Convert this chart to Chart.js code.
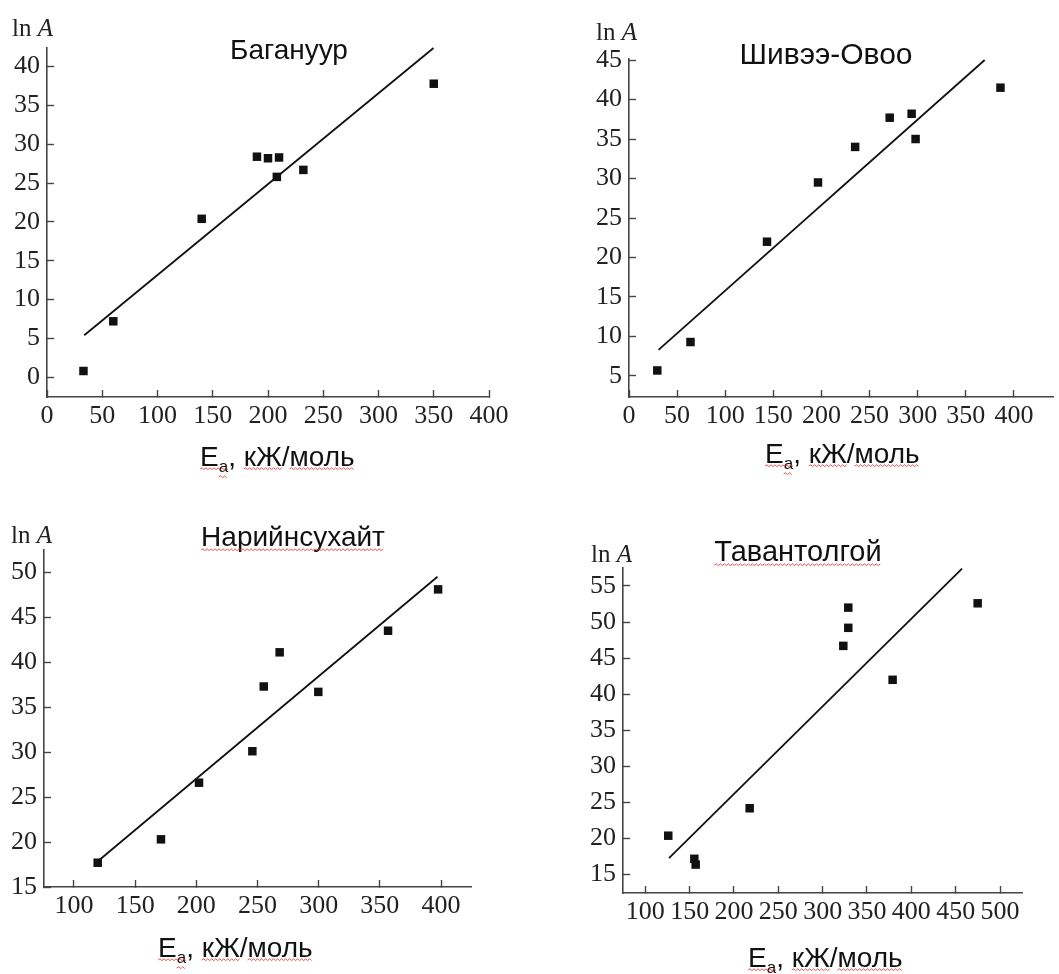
<!DOCTYPE html>
<html>
<head>
<meta charset="utf-8">
<script src="https://cdn.jsdelivr.net/npm/chart.js@4.4.1/dist/chart.umd.min.js"></script>
<style>
  html, body { margin: 0; padding: 0; background: #fff; }
  #wrap { position: relative; width: 1059px; height: 974px; overflow: hidden; background: #fff; }
  .panel { position: absolute; }
</style>
</head>
<body>
<div id="wrap">
  <div class="panel" style="left:0;top:0;width:530px;height:487px"><canvas id="c1"></canvas></div>
  <div class="panel" style="left:530px;top:0;width:529px;height:487px"><canvas id="c2"></canvas></div>
  <div class="panel" style="left:0;top:487px;width:530px;height:487px"><canvas id="c3"></canvas></div>
  <div class="panel" style="left:530px;top:487px;width:529px;height:487px"><canvas id="c4"></canvas></div>
</div>
<script>
// Activation energy (kJ/mol) vs ln A for four coal deposits
const bagaX = [33, 60, 140, 190, 200, 210, 208, 232, 350];
const bagaY = [0.8, 7.2, 20.4, 28.4, 28.2, 28.3, 25.8, 26.7, 37.8];
const bagaFitX = [33.7, 349.8];
const bagaFitY = [5.4, 42.4];

const shivX = [29.4, 63.9, 143.4, 196.4, 235, 270.9, 293.7, 297.8, 386];
const shivY = [5.7, 9.3, 22.0, 29.5, 34.0, 37.7, 38.2, 35.0, 41.5];
const shivFitX = [30.7, 369.6];
const shivFitY = [8.3, 45.0];

const nariX = [119.4, 171.1, 202.2, 245.8, 255.1, 268.1, 299.7, 356.7, 397.6];
const nariY = [17.7, 20.3, 26.6, 30.1, 37.3, 41.1, 36.7, 43.5, 48.1];
const nariFitX = [120.7, 397.1];
const nariFitY = [18.0, 49.5];

const tavX = [125.9, 155.3, 156.8, 217.7, 323.3, 328.9, 328.9, 378.9, 474.8];
const tavY = [20.4, 17.2, 16.4, 24.2, 46.7, 49.2, 52.0, 42.0, 52.6];
const tavFitX = [126.7, 457.2];
const tavFitY = [17.3, 57.4];

// Tick values for each axis
const bagaXTicks = [0, 50, 100, 150, 200, 250, 300, 350, 400];
const bagaYTicks = [0, 5, 10, 15, 20, 25, 30, 35, 40];
const shivXTicks = [0, 50, 100, 150, 200, 250, 300, 350, 400];
const shivYTicks = [5, 10, 15, 20, 25, 30, 35, 40, 45];
const nariXTicks = [100, 150, 200, 250, 300, 350, 400];
const nariYTicks = [15, 20, 25, 30, 35, 40, 45, 50];
const tavXTicks = [100, 150, 200, 250, 300, 350, 400, 450, 500];
const tavYTicks = [15, 20, 25, 30, 35, 40, 45, 50, 55];

const titles = ['Багануур', 'Шивээ-Овоо', 'Нарийнсухайт', 'Тавантолгой'];

const INK = '#111';
const AXIS = '#454545';
const SERIF = '"Liberation Serif", "Times New Roman", serif';
const SANS = '"Liberation Sans", Arial, sans-serif';

function zip(xs, ys) { return xs.map((x, i) => ({ x: x, y: ys[i] })); }

function wavy(ctx, x0, x1, y) {
  ctx.save();
  ctx.strokeStyle = 'rgba(226,52,52,0.85)';
  ctx.lineWidth = 1;
  ctx.beginPath();
  let up = true;
  ctx.moveTo(x0, y);
  for (let x = x0 + 2; x <= x1; x += 2) {
    ctx.lineTo(x, up ? y - 1.2 : y + 0.6);
    up = !up;
  }
  ctx.stroke();
  ctx.restore();
}

// Titles, "ln A" and "Ea, кЖ/моль" captions drawn on each panel
const panelText = {
  id: 'panelText',
  afterDraw(chart, args, o) {
    const ctx = chart.ctx;
    const ox = o.origin[0], oy = o.origin[1];
    ctx.save();
    ctx.fillStyle = INK;
    ctx.textBaseline = 'alphabetic';

    // title
    ctx.font = o.titleSize + 'px ' + SANS;
    ctx.textAlign = 'center';
    const tx = o.title[0] - ox, ty = o.title[1] - oy;
    ctx.fillText(o.text, tx, ty);
    if (o.titleWavy) {
      const tw = ctx.measureText(o.text).width;
      wavy(ctx, tx - tw / 2, tx + tw / 2, ty + 4);
    }

    // y caption
    ctx.textAlign = 'left';
    const lx = o.lnA[0] - ox, ly = o.lnA[1] - oy;
    ctx.font = '25px ' + SERIF;
    ctx.fillStyle = '#222';
    ctx.fillText('ln ', lx, ly);
    const wl = ctx.measureText('ln ').width;
    ctx.font = 'italic 25px ' + SERIF;
    ctx.fillText('A', lx + wl, ly);

    // x caption with subscript
    ctx.fillStyle = INK;
    const ex = o.xlab[0] - ox, ey = o.xlab[1] - oy;
    ctx.font = '28px ' + SANS;
    ctx.fillText('E', ex, ey);
    const wE = ctx.measureText('E').width;
    ctx.font = '17px ' + SANS;
    ctx.fillText('a', ex + wE, ey + 6);
    const wa = ctx.measureText('a').width;
    ctx.font = '28px ' + SANS;
    const rest = ', кЖ/моль';
    ctx.fillText(rest, ex + wE + wa, ey);
    const wComma = ctx.measureText(', ').width;
    const wKZ = ctx.measureText('кЖ').width;
    const wSl = ctx.measureText('/').width;
    const wMol = ctx.measureText('моль').width;
    const base = ex + wE + wa;
    wavy(ctx, ex, base, ey + 3);
    wavy(ctx, ex + wE, base, ey + 11);
    wavy(ctx, base + wComma, base + wComma + wKZ, ey + 3);
    wavy(ctx, base + wComma + wKZ + wSl, base + wComma + wKZ + wSl + wMol, ey + 3);
    ctx.restore();
  }
};

function makePanel(id, cfg) {
  const [ox, oy, cw, ch] = cfg.box;
  const [L, T, R, B] = cfg.plot;
  const yW = L - ox;
  const xH = oy + ch - B;
  const tickFont = { family: SERIF, size: 26 };
  const setTicks = (list) => (s) => { s.ticks = list.map(v => ({ value: v })); };
  return new Chart(document.getElementById(id), {
    type: 'scatter',
    data: {
      datasets: [
        {
          type: 'line',
          data: zip(cfg.fitX, cfg.fitY),
          borderColor: INK,
          borderWidth: 1.8,
          pointRadius: 0,
          fill: false,
          clip: false
        },
        {
          data: zip(cfg.xs, cfg.ys),
          pointStyle: 'rect',
          pointRadius: 6,
          pointBackgroundColor: INK,
          pointBorderWidth: 0,
          clip: false
        }
      ]
    },
    options: {
      responsive: true,
      maintainAspectRatio: false,
      animation: false,
      devicePixelRatio: 1,
      layout: { padding: { left: 0, top: T - oy, right: ox + cw - R, bottom: 0 } },
      plugins: {
        legend: { display: false },
        tooltip: { enabled: false },
        panelText: {
          origin: [ox, oy],
          text: cfg.title,
          titleSize: cfg.titleSize,
          title: cfg.titlePos,
          titleWavy: cfg.titleWavy,
          lnA: cfg.lnA,
          xlab: cfg.xlab
        }
      },
      scales: {
        x: {
          type: 'linear',
          position: 'bottom',
          min: cfg.xr[0],
          max: cfg.xr[1],
          afterBuildTicks: setTicks(cfg.xTicks),
          ticks: {
            autoSkip: false,
            maxRotation: 0,
            color: '#222',
            font: tickFont,
            padding: 11
          },
          grid: {
            drawOnChartArea: false,
            drawTicks: true,
            tickLength: -7,
            tickColor: AXIS,
            tickWidth: 1.4
          },
          border: { display: true, color: AXIS, width: 1.6 },
          afterFit(s) { s.height = xH; s.paddingLeft = 0; s.paddingRight = 0; }
        },
        y: {
          type: 'linear',
          position: 'left',
          min: cfg.yr[0],
          max: cfg.yr[1],
          afterBuildTicks: setTicks(cfg.yTicks),
          ticks: {
            autoSkip: false,
            color: '#222',
            font: tickFont,
            padding: 14
          },
          grid: {
            drawOnChartArea: false,
            drawTicks: true,
            tickLength: -7,
            tickColor: AXIS,
            tickWidth: 1.4
          },
          border: { display: true, color: AXIS, width: 1.6 },
          afterFit(s) { s.width = yW; s.paddingTop = 0; s.paddingBottom = 0; }
        }
      }
    },
    plugins: [panelText]
  });
}

makePanel('c1', {
  box: [0, 0, 530, 487], plot: [47, 48, 489, 397],
  xr: [0, 400], yr: [-2.55, 42.4], xTicks: bagaXTicks, yTicks: bagaYTicks,
  xs: bagaX, ys: bagaY, fitX: bagaFitX, fitY: bagaFitY,
  title: titles[0], titleSize: 28, titlePos: [289, 59], titleWavy: false,
  lnA: [12, 36], xlab: [200, 466]
});

makePanel('c2', {
  box: [530, 0, 529, 487], plot: [629, 59, 1059, 397],
  xr: [0, 440.6], yr: [2.34, 45.13], xTicks: shivXTicks, yTicks: shivYTicks,
  xs: shivX, ys: shivY, fitX: shivFitX, fitY: shivFitY,
  title: titles[1], titleSize: 30, titlePos: [826, 64], titleWavy: false,
  lnA: [596, 40], xlab: [765, 463]
});

makePanel('c3', {
  box: [0, 487, 530, 487], plot: [44, 550, 471, 887],
  xr: [75.5, 424.5], yr: [15, 52.48], xTicks: nariXTicks, yTicks: nariYTicks,
  xs: nariX, ys: nariY, fitX: nariFitX, fitY: nariFitY,
  title: titles[2], titleSize: 28, titlePos: [293, 546], titleWavy: true,
  lnA: [11, 543], xlab: [158, 957]
});

makePanel('c4', {
  box: [530, 487, 529, 487], plot: [623, 568, 1022, 893],
  xr: [74.85, 524.8], yr: [12.46, 57.49], xTicks: tavXTicks, yTicks: tavYTicks,
  xs: tavX, ys: tavY, fitX: tavFitX, fitY: tavFitY,
  title: titles[3], titleSize: 29, titlePos: [798, 561], titleWavy: true,
  lnA: [591, 562], xlab: [748, 967]
});
</script>
</body>
</html>
